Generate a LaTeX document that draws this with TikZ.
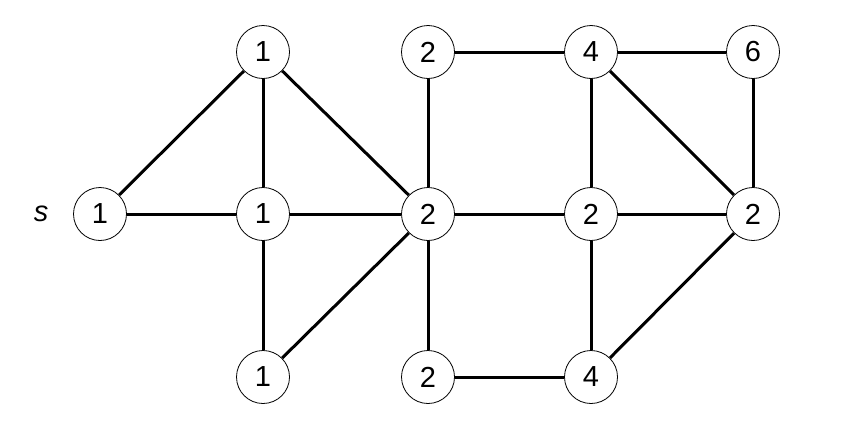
\documentclass[tikz,border=0pt]{standalone}
\usepackage{fontspec}
\setmainfont{Liberation Sans}
\begin{document}
\begin{tikzpicture}[x=1pt,y=-1pt,
  vtx/.style={circle,draw=black,line width=0.8pt,fill=white,minimum size=53pt,inner sep=0pt,font=\fontsize{29}{32}\selectfont},
  edge/.style={line width=3pt,black}]
\useasboundingbox (0,0) rectangle (850,434);
\node[vtx] (a) at (263,52) {1};
\node[vtx] (b) at (428,52) {2};
\node[vtx] (c) at (591,52) {4};
\node[vtx] (d) at (753,52) {6};
\node[vtx] (s) at (100,214) {1};
\node[vtx] (e) at (263,214) {1};
\node[vtx] (f) at (428,214) {2};
\node[vtx] (g) at (591,214) {2};
\node[vtx] (h) at (753,214) {2};
\node[vtx] (i) at (263,377) {1};
\node[vtx] (j) at (428,377) {2};
\node[vtx] (k) at (591,377) {4};
\node[font=\fontsize{29}{32}\selectfont\itshape] (lbl) at (41,214) {s};
\draw[edge] (s) -- (a);
\draw[edge] (s) -- (e);
\draw[edge] (a) -- (e);
\draw[edge] (a) -- (f);
\draw[edge] (e) -- (f);
\draw[edge] (e) -- (i);
\draw[edge] (i) -- (f);
\draw[edge] (b) -- (f);
\draw[edge] (b) -- (c);
\draw[edge] (f) -- (g);
\draw[edge] (f) -- (j);
\draw[edge] (j) -- (k);
\draw[edge] (c) -- (d);
\draw[edge] (c) -- (g);
\draw[edge] (c) -- (h);
\draw[edge] (d) -- (h);
\draw[edge] (g) -- (h);
\draw[edge] (g) -- (k);
\draw[edge] (k) -- (h);
\end{tikzpicture}
\end{document}
